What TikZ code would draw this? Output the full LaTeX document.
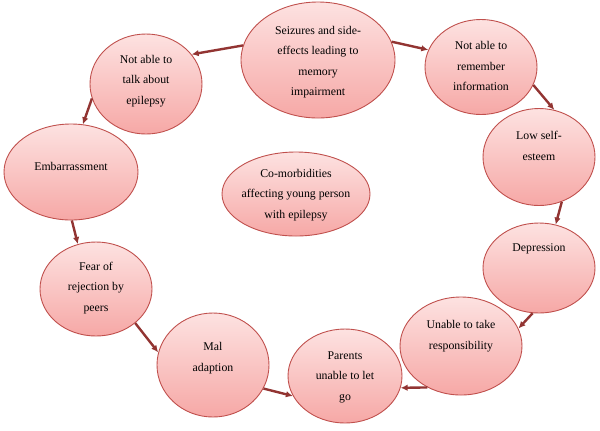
\documentclass[tikz,border=0pt]{standalone}
\usepackage{fontspec}
\setmainfont{Liberation Serif}
\usetikzlibrary{shapes.geometric,arrows.meta}
\definecolor{ftop}{RGB}{253,226,225}
\definecolor{fbot}{RGB}{246,168,166}
\definecolor{bord}{RGB}{192,80,77}
\definecolor{arr}{RGB}{146,52,50}
\tikzset{
  blob/.style={ellipse, draw=bord, line width=0.9bp, top color=ftop, bottom color=fbot, inner sep=0pt},
  txt/.style={font=\fontsize{11.8bp}{20.5bp}\selectfont, align=center, text=black},
  conn/.style={draw=arr, line width=2.4bp, -{Latex[length=7bp,width=6.5bp]}}
}
\begin{document}
\begin{tikzpicture}[x=1bp,y=-1bp]
\useasboundingbox (0,0) rectangle (600,430);
\node[blob, minimum width=154bp, minimum height=116bp,
  label={[txt,yshift=-2bp]center:{Seizures and side-\\effects leading to\\memory\\impairment}}] (sz) at (318,60) {};
\node[blob, minimum width=112bp, minimum height=95bp,
  label={[txt,yshift=1bp]center:{Not able to\\remember\\information}}] (rem) at (481,67) {};
\node[blob, minimum width=112bp, minimum height=97bp,
  label={[txt,yshift=11bp]center:{Low self-\\esteem}}] (low) at (539,157) {};
\node[blob, minimum width=112bp, minimum height=90bp,
  label={[txt,yshift=19bp]center:{Depression}}] (dep) at (539,268) {};
\node[blob, minimum width=122bp, minimum height=98bp,
  label={[txt,yshift=10bp]center:{Unable to take\\responsibility}}] (una) at (461,346) {};
\node[blob, minimum width=114bp, minimum height=94bp,
  label={[txt,yshift=-1bp]center:{Parents\\unable to let\\go}}] (par) at (345,376) {};
\node[blob, minimum width=112bp, minimum height=104bp,
  label={[txt,yshift=7bp]center:{Mal\\adaption}}] (mal) at (213,365) {};
\node[blob, minimum width=112bp, minimum height=94bp,
  label={[txt,yshift=1bp]center:{Fear of\\rejection by\\peers}}] (fear) at (96,289) {};
\node[blob, minimum width=134bp, minimum height=96bp,
  label={[txt,yshift=6bp]center:{Embarrassment}}] (emb) at (71,172) {};
\node[blob, minimum width=112bp, minimum height=100bp,
  label={[txt,yshift=3bp]center:{Not able to\\talk about\\epilepsy}}] (talk) at (146,84) {};
\node[blob, minimum width=148bp, minimum height=84bp,
  label={[txt,yshift=-1bp]center:{Co-morbidities\\affecting young person\\with epilepsy}}] (co) at (296,194) {};
\draw[conn] (sz.169.4) -- (talk.33);
\draw[conn] (sz.14.6) -- (rem.162);
\draw[conn] (rem.-19) -- (low.72);
\draw[conn] (low.-63.4) -- (dep.69.6);
\draw[conn] (dep.262) -- (una.17);
\draw[conn] (una.231) -- (par.-12.3);
\draw[conn] (mal.-25.7) -- (par.201.4);
\draw[conn] (fear.-41.3) -- (mal.167);
\draw[conn] (emb.-89) -- (fear.112);
\draw[conn] (talk.195) -- (emb.76);
\end{tikzpicture}
\end{document}
